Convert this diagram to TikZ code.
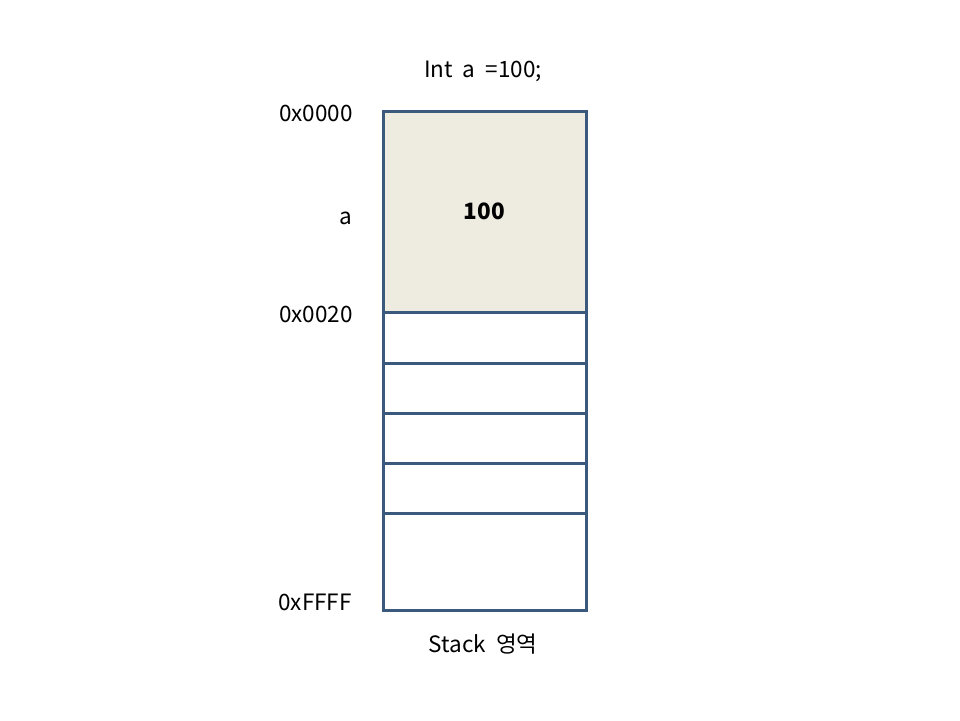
\documentclass[tikz,border=0pt]{standalone}
\usepackage{fontspec}
\setmainfont{Noto Sans CJK KR}
\usetikzlibrary{positioning}
\definecolor{cellline}{RGB}{59,89,125}
\definecolor{cellfill}{RGB}{238,236,225}
\tikzset{
  cell/.style={draw=cellline, line width=3pt, minimum width=203pt, outer sep=0pt, inner sep=0pt},
  addr/.style={anchor=base east, inner sep=0pt},
  caption/.style={anchor=base, inner sep=0pt}
}
\begin{document}
\begin{tikzpicture}[x=1pt, y=-1pt, node distance=0pt, font=\fontsize{22.5}{26}\selectfont]
\useasboundingbox (0,0) rectangle (960,720);
% stack cells
\node[cell, fill=cellfill, minimum height=201pt, anchor=north] (c0) at (484.5,111) {\textbf{100}};
\node[cell, minimum height=51pt, below=of c0] (c1) {};
\node[cell, minimum height=50pt, below=of c1] (c2) {};
\node[cell, minimum height=50pt, below=of c2] (c3) {};
\node[cell, minimum height=50pt, below=of c3] (c4) {};
\node[cell, minimum height=97pt, below=of c4] (c5) {};
% addresses
\node[addr] (a0) at (353,121) {0x0000};
\node[addr] (va) at (352,224) {a};
\node[addr] (a1) at (353,322) {0x0020};
\node[addr] (a2) at (352,610) {0xFFFF};
% captions
\node[caption] (code) at (483,77) {Int\ \ a\ \ =100;};
\node[caption] (stack) at (483,652) {Stack\ \ 영역};
\end{tikzpicture}
\end{document}
